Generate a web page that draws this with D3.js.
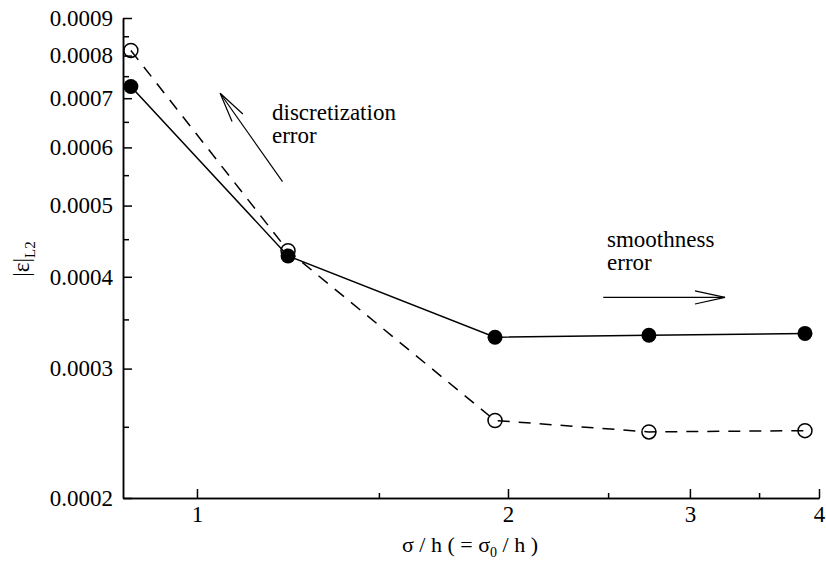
<!DOCTYPE html>
<html>
<head>
<meta charset="utf-8">
<script src="https://cdn.jsdelivr.net/npm/d3@7"></script>
<style>
  body { margin: 0; background: #fff; }
  text { font-family: "Liberation Serif", "Times New Roman", serif; fill: #000; }
</style>
</head>
<body>
<div class="container"></div>
<script>
const w = 826;
const h = 562;
const plotLeft = 123, plotRight = 819, plotTop = 18, plotBottom = 498;

// sigma / h values
const ratio = [0.863, 1.225, 1.943, 2.738, 3.877];
// filled circles, solid line
const errSolid = [0.000726, 0.000427, 0.000331, 0.000333, 0.000335];
// open circles, dashed line
const errDashed = [0.000813, 0.000434, 0.000255, 0.000246, 0.000247];

const yTicks = [0.0002, 0.0003, 0.0004, 0.0005, 0.0006, 0.0007, 0.0008, 0.0009];
const yMinor = [0.00025, 0.00035, 0.00045, 0.00055, 0.00065, 0.00075, 0.00085];
const xTicks = [1, 2, 3, 4];
const xMinor = [1.5, 2.5, 3.5];

// annotations, in data units: [x, y]
const discArrow = [[1.210, 0.000539], [1.053, 0.000711]];
const discText = [[1.182, 0.000654, "discretization"], [1.182, 0.000609, "error"]];
const smoothArrow = [[2.473, 0.000375], [3.244, 0.000375]];
const smoothText = [[2.494, 0.000439, "smoothness"], [2.494, 0.000409, "error"]];

const svg = d3.select(".container")
          .append("svg")
          .attr("width", w)
          .attr("height", h);

const xScale = d3.scaleLog().domain([0.848, 4]).range([plotLeft, plotRight]);
const yScale = d3.scaleLog().domain([0.0002, 0.0009]).range([plotBottom, plotTop]);

svg.append("defs").append("marker")
   .attr("id", "head")
   .attr("markerUnits", "userSpaceOnUse")
   .attr("viewBox", "-32 -8 34 16")
   .attr("markerWidth", 34).attr("markerHeight", 16)
   .attr("refX", 0).attr("refY", 0)
   .attr("orient", "auto")
   .append("path")
   .attr("d", "M-30,-6.6L0,0L-30,6.6")
   .attr("fill", "none")
   .attr("stroke", "#000")
   .attr("stroke-width", 1.2);

// minor ticks first
svg.append("g")
   .attr("transform", "translate(" + plotLeft + ",0)")
   .call(d3.axisLeft(yScale).tickValues(yMinor).tickFormat("").tickSizeInner(-6).tickSizeOuter(0));
svg.append("g")
   .attr("transform", "translate(0," + plotBottom + ")")
   .call(d3.axisBottom(xScale).tickValues(xMinor).tickFormat("").tickSizeInner(-5).tickSizeOuter(0));

const yAxis = d3.axisLeft(yScale)
                .tickValues(yTicks)
                .tickFormat(d3.format(".4f"))
                .tickSizeInner(-9)
                .tickSizeOuter(0)
                .tickPadding(10);
svg.append("g")
   .attr("id", "y-axis")
   .attr("transform", "translate(" + plotLeft + ",0)")
   .call(yAxis);

const xAxis = d3.axisBottom(xScale)
                .tickValues(xTicks)
                .tickFormat(d3.format("d"))
                .tickSizeInner(-9)
                .tickSizeOuter(0)
                .tickPadding(8);
svg.append("g")
   .attr("id", "x-axis")
   .attr("transform", "translate(0," + plotBottom + ")")
   .call(xAxis);

svg.selectAll(".tick text").attr("font-size", 23).attr("font-family", null);
svg.selectAll(".domain, .tick line").attr("stroke", "#000").attr("stroke-width", 1.5);

// series
const line = d3.line().x(d => xScale(d[0])).y(d => yScale(d[1]));
const dashed = ratio.map((r, i) => [r, errDashed[i]]);
const solid = ratio.map((r, i) => [r, errSolid[i]]);

svg.append("path")
   .attr("d", line(dashed))
   .attr("fill", "none")
   .attr("stroke", "#000")
   .attr("stroke-width", 1.5)
   .attr("stroke-dasharray", "12,9");
svg.selectAll(".open")
   .data(dashed)
   .enter()
   .append("circle")
   .attr("class", "open")
   .attr("cx", d => xScale(d[0]))
   .attr("cy", d => yScale(d[1]))
   .attr("r", 7)
   .attr("fill", "none")
   .attr("stroke", "#000")
   .attr("stroke-width", 1.5);

svg.append("path")
   .attr("d", line(solid))
   .attr("fill", "none")
   .attr("stroke", "#000")
   .attr("stroke-width", 1.5);
svg.selectAll(".filled")
   .data(solid)
   .enter()
   .append("circle")
   .attr("class", "filled")
   .attr("cx", d => xScale(d[0]))
   .attr("cy", d => yScale(d[1]))
   .attr("r", 7.5)
   .attr("fill", "#000");

// annotations
[discArrow, smoothArrow].forEach(a => {
    svg.append("line")
       .attr("x1", xScale(a[0][0])).attr("y1", yScale(a[0][1]))
       .attr("x2", xScale(a[1][0])).attr("y2", yScale(a[1][1]))
       .attr("stroke", "#000")
       .attr("stroke-width", 1.2)
       .attr("marker-end", "url(#head)");
});
svg.selectAll(".note")
   .data(discText.concat(smoothText))
   .enter()
   .append("text")
   .attr("class", "note")
   .attr("x", d => xScale(d[0]))
   .attr("y", d => yScale(d[1]))
   .attr("font-size", 23)
   .text(d => d[2]);

// axis titles
const xTitle = svg.append("text")
   .attr("x", 470)
   .attr("y", 552)
   .attr("text-anchor", "middle")
   .attr("font-size", 22);
xTitle.append("tspan").text("σ / h ( = σ");
xTitle.append("tspan").attr("font-size", 14).attr("dy", 5).text("0");
xTitle.append("tspan").attr("dy", -5).text(" / h )");

const yTitle = svg.append("text")
   .attr("transform", "translate(29,259) rotate(-90)")
   .attr("text-anchor", "middle")
   .attr("font-size", 23);
yTitle.append("tspan").text("|ε|");
yTitle.append("tspan").attr("font-size", 15).attr("dy", 6).text("L2");
</script>
</body>
</html>
